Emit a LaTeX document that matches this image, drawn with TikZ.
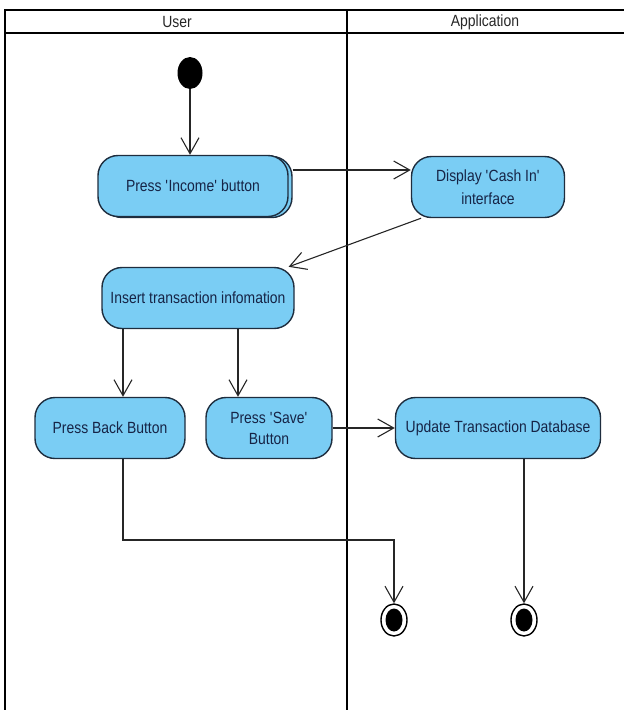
\documentclass[tikz,border=0pt]{standalone}
\usepackage{fontspec}
\setmainfont{Liberation Sans}
\newfontfamily\umlfont{Liberation Sans}[FakeStretch=0.86]
\usepackage{tikz}
\usetikzlibrary{arrows.meta}
\usetikzlibrary{shapes.geometric,positioning}
\definecolor{actfill}{RGB}{122,205,244}
\definecolor{actline}{RGB}{30,45,62}
\definecolor{acttext}{RGB}{22,36,70}
\newcommand{\tq}{\textquotesingle}
\tikzset{
  action/.style={draw=actline, line width=1.4pt, fill=actfill, rounded corners=20pt,
    text=acttext, align=center, inner sep=0pt, minimum height=61pt,
    font=\umlfont\fontsize{16.2}{23}\selectfont},
  flow/.style={draw=black!85, line width=1.1pt, -{Straight Barb[length=16pt,width=18pt]}},
  lane/.style={line width=2.6pt},
  startdot/.style={ellipse, fill=black, minimum width=25pt, minimum height=32pt, inner sep=0pt},
  endring/.style={ellipse, draw=black, line width=1.4pt, fill=white, minimum width=26pt, minimum height=32pt, inner sep=0pt},
  enddot/.style={ellipse, fill=black, minimum width=17pt, minimum height=23pt, inner sep=0pt},
  lanehead/.style={font=\umlfont\fontsize{16.2}{18}\selectfont, text=black!85}
}

\begin{document}
\begin{tikzpicture}[x=1pt, y=-1pt]
\useasboundingbox (0,0) rectangle (624,710);
\draw[line width=2pt] (5,10) -- (624,10);
\draw[lane] (5,33) -- (624,33);
\draw[lane] (5,9) -- (5,710);
\draw[lane] (347,9) -- (347,710);
\node[lanehead] (userlane) at (177,22) {User};
\node[lanehead] (applane) at (485,22) {Application};

\node[startdot] (start) at (190,73) {};
\node[action, minimum width=190pt] (incomeback) at (197,187) {};
\node[action, minimum width=190pt] (income) at (193,186) {Press \tq Income\tq{} button};
\node[action, minimum width=153pt] (display) at (488,187) {Display \tq Cash In\tq\\interface};
\node[action, minimum width=192pt] (insert) at (198,298) {Insert transaction infomation};
\node[action, minimum width=150pt] (back) at (110,428) {Press Back Button};
\node[action, minimum width=126pt, font=\umlfont\fontsize{16.2}{21}\selectfont] (save) at (269,428) {Press \tq Save\tq\\Button};
\node[action, minimum width=205pt] (update) at (498,428) {Update Transaction Database};
\node[endring] (end1) at (394,620) {};
\node[enddot] (dot1) at (end1) {};
\node[endring] (end2) at (524,620) {};
\node[enddot] (dot2) at (end2) {};

\coordinate (row1) at (0,170);
\coordinate (bk) at (123,540);
\coordinate (sv) at (238,540);
\draw[flow] (start) -- (start |- income.north);
\draw[flow] (row1 -| incomeback.east) -- (row1 -| display.west);
\draw[flow] (display.205) -- (insert.19);
\draw[flow] (bk |- insert.south) -- (bk |- back.north);
\draw[flow] (sv |- insert.south) -- (sv |- save.north);
\draw[flow] (save.east) -- (update.west);
\draw[flow] (bk |- back.south) -- (bk) -| (end1.north);
\draw[flow] (end2 |- update.south) -- (end2.north);
\end{tikzpicture}
\end{document}
